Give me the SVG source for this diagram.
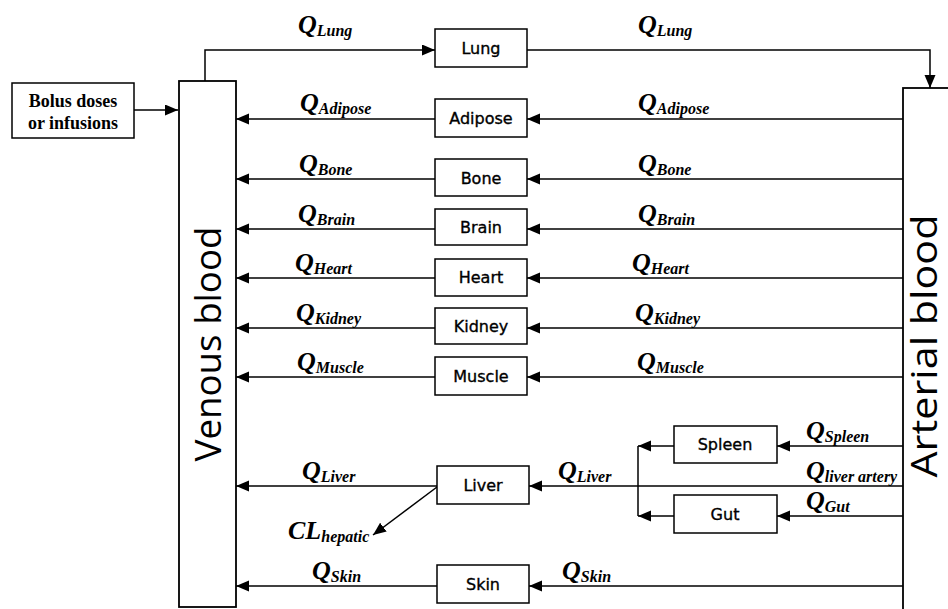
<svg xmlns="http://www.w3.org/2000/svg" width="948" height="609" viewBox="0 0 948 609">
  <style>
    .box { fill: #fff; stroke: #000; stroke-width: 1.5; }
    .pool { fill: #fff; stroke: #000; stroke-width: 1.8; }
    .organ { font-family: "DejaVu Sans", "Liberation Sans", sans-serif; font-size: 16px; text-anchor: middle; fill: #000; stroke: #000; stroke-width: 0.35; }
    .pooltxt { font-family: "Open Sans", "Noto Sans", sans-serif; font-size: 37px; text-anchor: middle; fill: #000; }
    .dose { font-family: "Liberation Serif", serif; font-weight: bold; font-size: 18px; text-anchor: middle; fill: #000; }
    .q { font-family: "Liberation Serif", serif; font-weight: bold; font-style: italic; font-size: 26px; fill: #000; }
    .sub { font-size: 16px; }
    #connectors path { fill: none; stroke: #000; stroke-width: 1.5; }
  </style>
  <defs>
    <marker id="arrow" markerUnits="userSpaceOnUse" markerWidth="14" markerHeight="12" refX="13" refY="5.5" orient="auto">
      <path d="M0,0 L13,5.5 L0,11 Z" fill="#000"/>
    </marker>
  </defs>

  <rect width="948" height="609" fill="#fff"/>

  <!-- connectors -->
  <g id="connectors" marker-end="url(#arrow)">
    <path d="M134,110 H178"/>
    <path d="M205,81 V50 H435"/>
    <path d="M527,50 H930 V88"/>
    <path d="M903,119 H527"/><path d="M435,119 H236"/>
    <path d="M903,179 H527"/><path d="M435,179 H236"/>
    <path d="M903,229 H527"/><path d="M435,229 H236"/>
    <path d="M903,278 H527"/><path d="M435,278 H236"/>
    <path d="M903,328 H527"/><path d="M435,328 H236"/>
    <path d="M903,377 H527"/><path d="M435,377 H236"/>
    <path d="M903,446 H777"/><path d="M674,446 H638"/>
    <path d="M903,516 H777"/><path d="M674,516 H638"/>
    <path d="M638,446 V516" marker-end="none"/>
    <path d="M903,486 H529"/><path d="M437,486 H236"/>
    <path d="M437,487 L373,535"/>
    <path d="M903,586 H529"/><path d="M437,586 H236"/>
  </g>

  <!-- dosing input -->
  <g id="bolus">
    <rect class="box" x="12" y="83" width="122" height="55"/>
    <text class="dose" x="73" y="107">Bolus doses</text>
    <text class="dose" x="73" y="129">or infusions</text>
  </g>

  <!-- blood pools -->
  <g id="venous">
    <rect class="pool" x="179" y="81" width="57" height="526"/>
    <text class="pooltxt" transform="translate(221,344) rotate(-90)" textLength="235" lengthAdjust="spacingAndGlyphs">Venous blood</text>
  </g>
  <g id="arterial">
    <rect class="pool" x="903" y="88" width="60" height="530"/>
    <text class="pooltxt" transform="translate(937,346) rotate(-90)" textLength="263" lengthAdjust="spacingAndGlyphs">Arterial blood</text>
  </g>

  <!-- tissue compartments -->
  <g id="lung"><rect class="box" x="435" y="29" width="92" height="38"/><text class="organ" x="481" y="54">Lung</text></g>
  <g id="adipose"><rect class="box" x="435" y="99" width="92" height="38"/><text class="organ" x="481" y="124">Adipose</text></g>
  <g id="bone"><rect class="box" x="435" y="159" width="92" height="37"/><text class="organ" x="481" y="184">Bone</text></g>
  <g id="brain"><rect class="box" x="435" y="209" width="92" height="36"/><text class="organ" x="481" y="233">Brain</text></g>
  <g id="heart"><rect class="box" x="435" y="259" width="92" height="37"/><text class="organ" x="481" y="283">Heart</text></g>
  <g id="kidney"><rect class="box" x="435" y="308" width="92" height="36"/><text class="organ" x="481" y="332">Kidney</text></g>
  <g id="muscle"><rect class="box" x="435" y="357" width="92" height="38"/><text class="organ" x="481" y="382">Muscle</text></g>
  <g id="liver"><rect class="box" x="437" y="466" width="92" height="38"/><text class="organ" x="483" y="491">Liver</text></g>
  <g id="skin"><rect class="box" x="437" y="565" width="92" height="38"/><text class="organ" x="483" y="590">Skin</text></g>
  <g id="spleen"><rect class="box" x="674" y="426" width="103" height="37"/><text class="organ" x="725" y="450">Spleen</text></g>
  <g id="gut"><rect class="box" x="674" y="495" width="103" height="38"/><text class="organ" x="725" y="520">Gut</text></g>

  <!-- flow labels -->
  <g id="flow-labels">
    <text class="q" x="298" y="33">Q<tspan class="sub" dy="3">Lung</tspan></text>
    <text class="q" x="638" y="33">Q<tspan class="sub" dy="3">Lung</tspan></text>
    <text class="q" x="300" y="111">Q<tspan class="sub" dy="3">Adipose</tspan></text>
    <text class="q" x="638" y="111">Q<tspan class="sub" dy="3">Adipose</tspan></text>
    <text class="q" x="299" y="172">Q<tspan class="sub" dy="3">Bone</tspan></text>
    <text class="q" x="638" y="172">Q<tspan class="sub" dy="3">Bone</tspan></text>
    <text class="q" x="298" y="222">Q<tspan class="sub" dy="3">Brain</tspan></text>
    <text class="q" x="638" y="222">Q<tspan class="sub" dy="3">Brain</tspan></text>
    <text class="q" x="295" y="271">Q<tspan class="sub" dy="3">Heart</tspan></text>
    <text class="q" x="632" y="271">Q<tspan class="sub" dy="3">Heart</tspan></text>
    <text class="q" x="296" y="321">Q<tspan class="sub" dy="3">Kidney</tspan></text>
    <text class="q" x="635" y="321">Q<tspan class="sub" dy="3">Kidney</tspan></text>
    <text class="q" x="297" y="370">Q<tspan class="sub" dy="3">Muscle</tspan></text>
    <text class="q" x="637" y="370">Q<tspan class="sub" dy="3">Muscle</tspan></text>
    <text class="q" x="806" y="439">Q<tspan class="sub" dy="3">Spleen</tspan></text>
    <text class="q" x="806" y="479">Q<tspan class="sub" dy="3">liver artery</tspan></text>
    <text class="q" x="806" y="509">Q<tspan class="sub" dy="3">Gut</tspan></text>
    <text class="q" x="302" y="479">Q<tspan class="sub" dy="3">Liver</tspan></text>
    <text class="q" x="558" y="479">Q<tspan class="sub" dy="3">Liver</tspan></text>
    <text class="q" x="288" y="539">CL<tspan class="sub" dy="3">hepatic</tspan></text>
    <text class="q" x="312" y="579">Q<tspan class="sub" dy="3">Skin</tspan></text>
    <text class="q" x="562" y="579">Q<tspan class="sub" dy="3">Skin</tspan></text>
  </g>
</svg>
